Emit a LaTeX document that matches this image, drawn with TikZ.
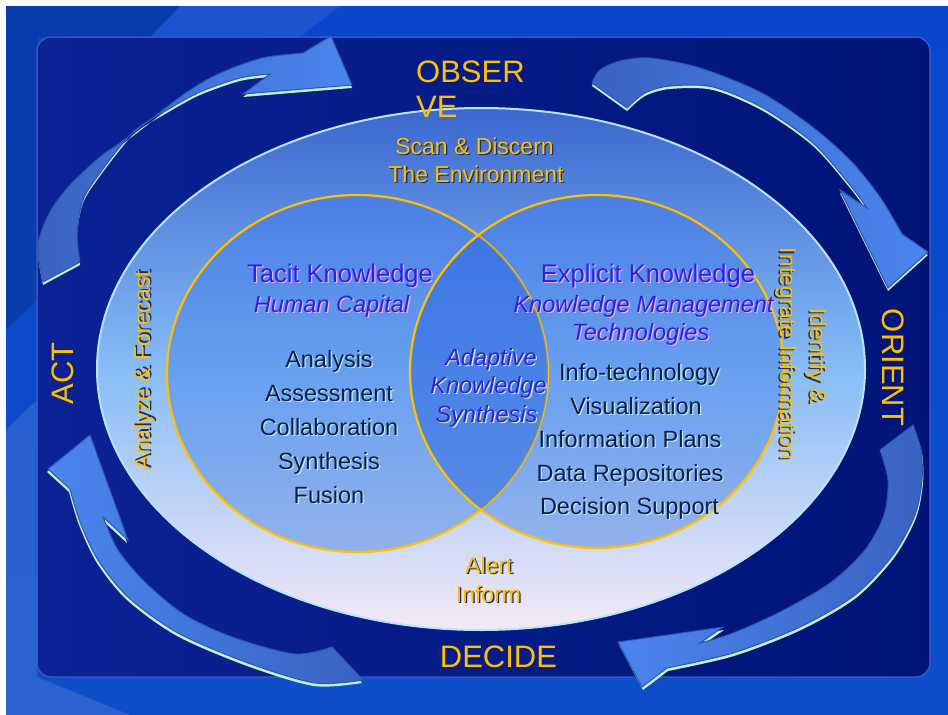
\documentclass[tikz,border=0pt]{standalone}
\usepackage{fontspec}
\setmainfont{Liberation Sans}
\usepackage{xcolor}
\usepackage{tikz}
\usetikzlibrary{positioning}

\definecolor{bgtop}{HTML}{0A46CC}
\definecolor{bgbot}{HTML}{0E4EC8}
\definecolor{panelleft}{HTML}{0A2294}
\definecolor{panelright}{HTML}{001478}
\definecolor{panelline}{HTML}{3358C8}
\definecolor{arrowblue}{HTML}{4A86EE}
\definecolor{arrowdark}{HTML}{3A62C2}
\definecolor{arrowedge}{HTML}{2F55B0}
\definecolor{glowgreen}{HTML}{BFF2C8}
\definecolor{elltop}{HTML}{3B67CF}
\definecolor{ellmid}{HTML}{86BDF7}
\definecolor{ellbot}{HTML}{F5E9F5}
\definecolor{ellline}{HTML}{B8E4FF}
\definecolor{circtop}{HTML}{4A7FE4}
\definecolor{circmid}{HTML}{68A0F0}
\definecolor{circbot}{HTML}{92B2EC}
\definecolor{lensblue}{HTML}{2F6AE0}
\definecolor{gold}{HTML}{FFC000}
\definecolor{headblue}{HTML}{2D1FE4}
\definecolor{itemnavy}{HTML}{0D1C4E}
\definecolor{pinkglow}{HTML}{E6B4EE}
\definecolor{cyanglow}{HTML}{B8ECF4}
\definecolor{limeglow}{HTML}{D4F0A0}
\definecolor{darkglow}{HTML}{1A2A6A}

\tikzset{
  lbl/.style={inner sep=0pt, anchor=base},
  bigtx/.style={lbl, text=gold, font=\fontsize{31}{35}\selectfont},
  goldtx/.style={lbl, text=gold, font=\fontsize{23}{27}\selectfont},
  headtx/.style={lbl, text=headblue, font=\fontsize{25.5}{30}\selectfont},
  subtx/.style={lbl, text=headblue, font=\fontsize{23.5}{28}\selectfont\itshape},
  itemtx/.style={lbl, text=itemnavy, font=\fontsize{23.5}{28}\selectfont},
  goldring/.style={draw=gold, line width=2.2pt},
  arrowline/.style={draw=arrowedge, line width=1pt}
}

\newcommand{\shtxt}[5]{%
  \node[#2, text=#3, xshift=1.3pt, yshift=-1.3pt] at (#4) {#5};
  \node[#2] (#1) at (#4) {#5};}

\newcommand{\tlarrow}{(352,85) -- (331,36) -- plot[smooth] coordinates {(303,53) (267,57) (240,65) (210,78) (183,95) (150,120) (120,143) (100,157) (70,185) (50,212) (38,245) (43,282)} -- plot[smooth] coordinates {(80,262) (77,233) (83,200) (100,173) (133,132) (167,110) (200,92) (240,78) (270,74)} -- (243,94) -- cycle}
\newcommand{\trarrow}{(888,288) -- (928,252) -- plot[smooth] coordinates {(902,234) (880,197) (850,160) (810,125) (760,92) (700,68) (650,58) (620,61) (600,70) (592,83)} -- plot[smooth] coordinates {(627,108) (645,93) (670,86) (713,87) (763,108) (813,143) (850,185) (867,208)} -- (840,190) -- cycle}
\newcommand{\brarrow}{(618,642) -- (642,687) -- plot[smooth] coordinates {(667,668) (733,653) (800,627) (855,595) (893,555) (915,515) (922,480) (921,450) (913,425)} -- plot[smooth] coordinates {(880,450) (888,480) (884,515) (865,550) (830,583) (780,612) (733,633) (700,643)} -- (723,627) -- cycle}
\newcommand{\blarrow}{(90,435) -- (48,469) -- plot[smooth] coordinates {(70,489) (80,522) (98,560) (128,597) (178,633) (248,663) (315,683) (363,680)} -- plot[smooth] coordinates {(332,647) (295,654) (235,638) (185,615) (145,582) (118,550) (103,517)} -- (128,540) -- cycle}

\begin{document}
\begin{tikzpicture}[x=1pt, y=-1pt]
\useasboundingbox (0,0) rectangle (948,715);
\fill[white] (0,0) rectangle (948,715);
\shade[top color=bgtop, bottom color=bgbot] (6,6) rectangle (948,715);
\fill[white, opacity=0.07] (180,6) -- (340,6) -- (300,37) -- (150,37) -- cycle;
\fill[black, opacity=0.15] (6,6) -- (180,6) -- (150,37) -- (37,37) -- (37,300) -- (6,330) -- cycle;
\fill[white, opacity=0.12] (6,430) -- (37,400) -- (37,677) -- (130,715) -- (6,715) -- cycle;
\shadedraw[left color=panelleft, right color=panelright, draw=panelline, line width=1.5pt, rounded corners=14pt] (37,37) rectangle (930,677);

\fill[glowgreen, shift={(0,3)}] \tlarrow;
\shadedraw[left color=arrowdark, right color=arrowblue, arrowline] \tlarrow;
\fill[glowgreen, shift={(0,3)}] \trarrow;
\shadedraw[left color=arrowdark, right color=arrowblue, arrowline] \trarrow;
\fill[glowgreen, shift={(1,3)}] \brarrow;
\shadedraw[left color=arrowblue, right color=arrowdark, arrowline] \brarrow;
\fill[glowgreen, shift={(-1,3)}] \blarrow;
\shadedraw[left color=arrowblue, right color=arrowdark, arrowline] \blarrow;

\shadedraw[top color=elltop, bottom color=ellbot, middle color=ellmid, draw=ellline, line width=2pt] (481,369) ellipse [x radius=384, y radius=261];

\shade[top color=circtop, bottom color=circbot, middle color=circmid] (357.5,373.5) ellipse [x radius=190.5, y radius=178.5];
\shade[top color=circtop, bottom color=circbot, middle color=circmid] (597,371.5) ellipse [x radius=187, y radius=176.5];
\draw[goldring] (357.5,373.5) ellipse [x radius=190.5, y radius=178.5];
\begin{scope}
  \clip (357.5,373.5) ellipse [x radius=190.5, y radius=178.5];
  \fill[lensblue, fill opacity=0.55] (597,371.5) ellipse [x radius=187, y radius=176.5];
\end{scope}
\draw[goldring] (597,371.5) ellipse [x radius=187, y radius=176.5];

\node[bigtx, anchor=base west] (obs1) at (416,82) {OBSER};
\node[bigtx, anchor=base west] (obs2) at (416,117) {VE};
\node[bigtx, rotate=90] (act) at (73,373.5) {ACT};
\node[bigtx, rotate=-90] (orient) at (882,367.5) {ORIENT};
\node[bigtx] (decide) at (498.5,667) {DECIDE};

\shtxt{scan}{goldtx}{darkglow}{474.5,154}{Scan \& Discern}
\shtxt{env}{goldtx}{darkglow}{476,182}{The Environment}
\shtxt{alert}{goldtx}{darkglow}{489,573}{Alert}
\shtxt{inform}{goldtx}{darkglow}{488.5,602}{Inform}
\shtxt{analyze}{goldtx, rotate=90}{darkglow}{150,370.5}{Analyze \& Forecast}
\shtxt{identify}{goldtx, rotate=-90}{darkglow}{810,356}{Identify \&}
\shtxt{integrate}{goldtx, rotate=-90}{darkglow}{780,354}{Integrate Information}

\shtxt{tacit}{headtx}{pinkglow}{340,282}{Tacit Knowledge}
\shtxt{human}{subtx}{pinkglow}{331.5,312}{Human Capital}
\shtxt{explicit}{headtx}{pinkglow}{648,282}{Explicit Knowledge}
\shtxt{kmgmt}{subtx}{pinkglow}{643.5,312}{Knowledge Management}
\shtxt{tech}{subtx}{pinkglow}{640.5,340}{Technologies}

\shtxt{adapt}{subtx}{limeglow}{491,365}{Adaptive}
\shtxt{know}{subtx}{limeglow}{488.5,393}{Knowledge}
\shtxt{synth}{subtx}{limeglow}{486.5,422}{Synthesis}

\foreach \txt [count=\i] in {Analysis, Assessment, Collaboration, Synthesis, Fusion}
  {\shtxt{tac\i}{itemtx}{cyanglow}{329,333+34*\i}{\txt}}
\foreach \txt/\xx [count=\i] in {Info-technology/639.5, Visualization/636, Information Plans/630, Data Repositories/630, Decision Support/629.5}
  {\shtxt{exp\i}{itemtx}{cyanglow}{\xx,347+33.5*\i}{\txt}}
\end{tikzpicture}
\end{document}
